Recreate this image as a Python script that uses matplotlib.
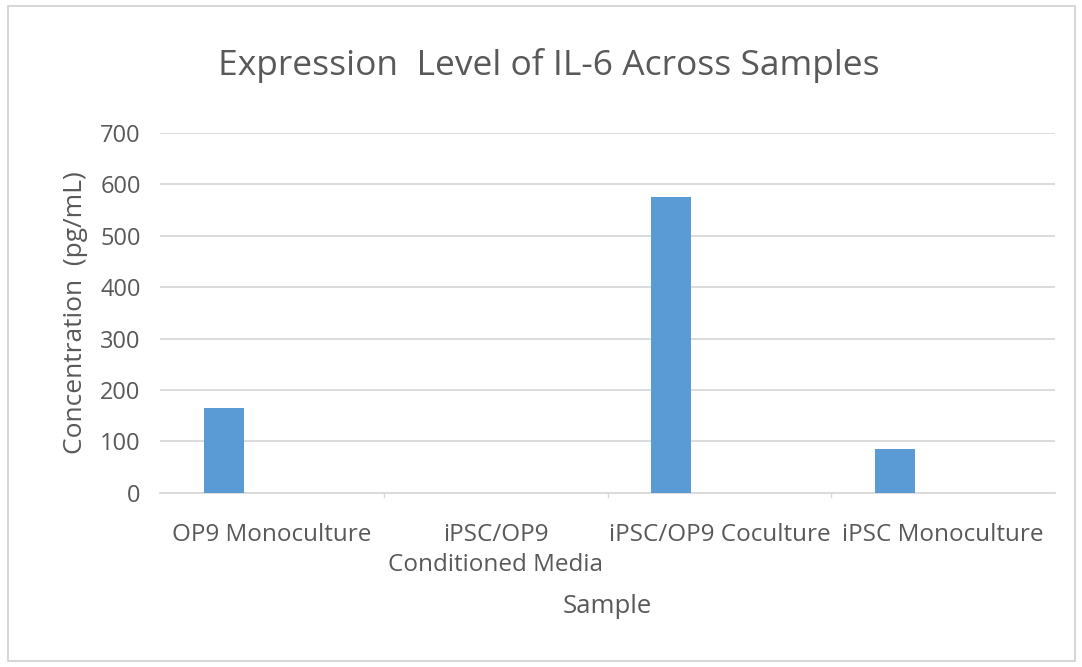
import matplotlib
matplotlib.use("Agg")
import matplotlib.pyplot as plt
from matplotlib.patches import Rectangle
import numpy as np

plt.rcParams['font.family'] = ['Open Sans', 'DejaVu Sans']

categories = ["OP9 Monoculture", "iPSC/OP9\nConditioned Media",
              "iPSC/OP9 Coculture", "iPSC Monoculture"]
values = [165, 0, 576, 86]
yticks = [0, 100, 200, 300, 400, 500, 600, 700]

text_col = "#595959"
grid_col = "#d9d9d9"
bar_col = "#5b9bd5"

fig = plt.figure(figsize=(10.82, 6.67), dpi=100)
ax = fig.add_axes([0.148, 0.261, 0.827, 0.540])

x = np.arange(len(categories))
ax.bar(x - 0.215, values, width=0.18, color=bar_col, zorder=3)

ax.set_xlim(-0.5, len(categories) - 0.5)
ax.set_ylim(0, 700)
ax.set_yticks(yticks)
ax.set_yticklabels([str(v) for v in yticks], fontsize=17, color=text_col)
ax.set_xticks(x)
ax.set_xticklabels(categories, fontsize=17.5, color=text_col, linespacing=1.3)
ax.tick_params(axis='y', length=0, pad=14)
ax.tick_params(axis='x', length=0, pad=22)

# category separators on the axis line
for b in np.arange(0.5, len(categories) - 0.5, 1):
    ax.plot([b, b], [0, -8], color=grid_col, lw=1, clip_on=False)

ax.grid(axis='y', color=grid_col, lw=1.3, zorder=0)
for s in ['top', 'right', 'left']:
    ax.spines[s].set_visible(False)
ax.spines['bottom'].set_color(grid_col)
ax.spines['bottom'].set_linewidth(1.3)

ax.set_ylabel("Concentration  (pg/mL)", fontsize=19, color=text_col, labelpad=9)
ax.set_xlabel("Sample", fontsize=18.5, color=text_col, labelpad=12)
fig.text(0.507, 0.902, "Expression  Level of IL-6 Across Samples", fontsize=25.5,
         color=text_col, ha='center', va='center')

fig.patches.append(Rectangle((8 / 1082, 6 / 667), 1067 / 1082, 655 / 667,
                             transform=fig.transFigure, fill=False,
                             edgecolor="#d0d0d0", lw=1.2))

fig.savefig("out.png", dpi=100, facecolor='white')
